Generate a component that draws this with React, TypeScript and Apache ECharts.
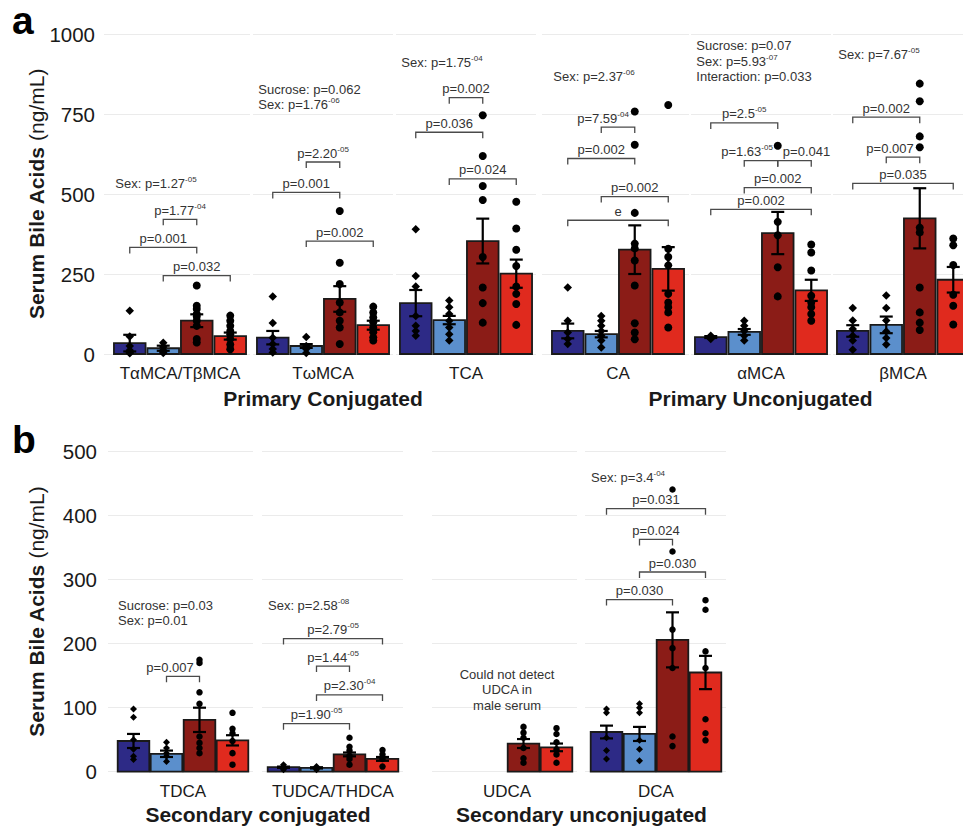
import React, { useEffect, useRef } from 'react';
import * as echarts from 'echarts';

const FONT = "'Liberation Sans', Arial, Helvetica, sans-serif";
const INK = '#1a1a1a';
const NOTE_INK = '#333333';

// ---- groups ----
const GROUPS = ['Male Control', 'Male Sucrose', 'Female Control', 'Female Sucrose'];
const GROUP_COLORS = ['#2d2a86', '#5b8fcc', '#8b1c17', '#e02a1e'];

type Bracket = [number, number, number, string, string]; // from group, to group, y value, label, superscript
type NoteLine = [string, string];

// ---- panel a ----
const A_CATEGORIES = ['TαMCA/TβMCA', 'TωMCA', 'TCA', 'CA', 'αMCA', 'βMCA'];
const A_TITLES = ['Primary Conjugated', 'Primary Unconjugated'];
const A_TITLE_SPANS = [[0, 2], [3, 5]];
const A_TICKS = [0, 250, 500, 750, 1000];
const A_MEANS: (number | null)[][] = [
  [34, 18, 104, 56],
  [51, 25, 172, 90],
  [159, 106, 353, 251],
  [72, 62, 326, 266],
  [53, 69, 378, 199],
  [72, 91, 424, 232],
];
const A_SEMS: (number | null)[][] = [
  [26, 8, 20, 11],
  [21, 6, 40, 14],
  [41, 13, 70, 44],
  [23, 10, 76, 68],
  [3, 9, 66, 33],
  [18, 26, 94, 40],
];
const A_POINTS: number[][][] = [
  [[135, 55, 25, 12, 5, 2], [35, 22, 12, 6, 3], [214, 151, 141, 125, 117, 104, 88, 47, 36], [120, 104, 88, 72, 62, 47, 30, 15]],
  [[180, 97, 51, 31, 16, 5], [53, 25, 16, 3], [447, 285, 219, 161, 130, 104, 83, 31], [148, 130, 114, 99, 83, 68, 52, 42]],
  [[390, 244, 211, 119, 88, 72, 57], [167, 146, 125, 104, 83, 62, 42], [746, 619, 525, 481, 303, 208, 159, 98], [476, 392, 326, 275, 211, 188, 156, 91]],
  [[208, 104, 67, 47, 31], [119, 104, 88, 72, 57, 42, 20], [758, 654, 441, 345, 330, 292, 214, 96, 67, 46], [778, 329, 303, 277, 188, 161, 146, 130, 83]],
  [[57, 52, 47], [104, 88, 72, 57, 42], [651, 413, 371, 271, 180], [342, 317, 261, 182, 161, 146, 125, 104]],
  [[144, 105, 78, 57, 42, 13], [183, 144, 105, 70, 50, 30], [845, 790, 680, 646, 395, 380, 208, 130, 98, 75], [361, 340, 278, 185, 151, 92]],
];
const A_BRACKETS: Bracket[][] = [
  [[1, 3, 333, 'p=0.001', ''], [2, 3, 421, 'p=1.77', '-04'], [2, 4, 245, 'p=0.032', '']],
  [[1, 3, 505, 'p=0.001', ''], [2, 3, 600, 'p=2.20', '-05'], [2, 4, 353, 'p=0.002', '']],
  [[2, 3, 801, 'p=0.002', ''], [1, 3, 693, 'p=0.036', ''], [2, 4, 547, 'p=0.024', '']],
  [[2, 3, 709, 'p=7.59', '-04'], [1, 3, 611, 'p=0.002', ''], [2, 4, 492, 'p=0.002', ''], [1, 4, 418, 'e', '']],
  [[1, 3, 722, 'p=2.5', '-05'], [2, 3, 604, 'p=1.63', '-05'], [3, 4, 604, 'p=0.041', ''], [2, 4, 520, 'p=0.002', ''], [1, 4, 452, 'p=0.002', '']],
  [[1, 3, 740, 'p=0.002', ''], [2, 3, 615, 'p=0.007', ''], [1, 4, 533, 'p=0.035', '']],
];
const A_NOTE_Y = [534, 827, 911, 866, 963, 937];
const A_NOTE_LINES: NoteLine[][] = [
  [['Sex: p=1.27', '-05']],
  [['Sucrose: p=0.062', ''], ['Sex: p=1.76', '-06']],
  [['Sex: p=1.75', '-04']],
  [['Sex: p=2.37', '-06']],
  [['Sucrose: p=0.07', ''], ['Sex: p=5.93', '-07'], ['Interaction: p=0.033', '']],
  [['Sex: p=7.67', '-05']],
];

// ---- panel b ----
const B_CATEGORIES = ['TDCA', 'TUDCA/THDCA', 'UDCA', 'DCA'];
const B_TITLES = ['Secondary conjugated', 'Secondary unconjugated'];
const B_TITLE_SPANS = [[0, 1], [2, 3]];
const B_TICKS = [0, 100, 200, 300, 400, 500];
const B_MEANS: (number | null)[][] = [
  [48, 28, 81, 49],
  [7, 6, 27, 20],
  [null, null, 44, 38],
  [62, 59, 206, 155],
];
const B_SEMS: (number | null)[][] = [
  [11, 5, 19, 8],
  [1, 1, 3, 3],
  [null, null, 7, 6],
  [10, 11, 43, 26],
];
const B_POINTS: number[][][] = [
  [[98, 85, 50, 35, 24, 19], [46, 37, 29, 24, 16], [175, 170, 124, 106, 55, 45, 37, 29], [92, 67, 60, 48, 29, 11]],
  [[11, 7, 5, 3], [8, 5, 3], [53, 39, 33, 25, 20, 11], [34, 27, 20, 8]],
  [[], [], [70, 61, 53, 37, 21, 14], [68, 59, 46, 35, 27, 14]],
  [[98, 92, 53, 33, 20], [106, 100, 92, 49, 35, 17], [441, 344, 222, 193, 162, 55, 40], [268, 253, 188, 162, 82, 60, 49]],
];
const B_BRACKETS: Bracket[][] = [
  [[2, 3, 149, 'p=0.007', '']],
  [[1, 4, 208, 'p=2.79', '-05'], [2, 3, 165, 'p=1.44', '-05'], [2, 4, 120, 'p=2.30', '-04'], [1, 3, 75, 'p=1.90', '-05']],
  [],
  [[1, 4, 411, 'p=0.031', ''], [2, 3, 363, 'p=0.024', ''], [2, 4, 312, 'p=0.030', ''], [1, 3, 269, 'p=0.030', '']],
];
const B_NOTE_Y = [260, 260, 152, 460];
const B_NOTE_LINES: NoteLine[][] = [
  [['Sucrose: p=0.03', ''], ['Sex: p=0.01', '']],
  [['Sex: p=2.58', '-08']],
  [['Could not detect', ''], ['UDCA in', ''], ['male serum', '']],
  [['Sex: p=3.4', '-04']],
];

// ---- layout (pixels) ----
// [gridline left, gridline right, left edge of first bar slot]
const A_LAYOUT = [[104, 250, 113], [253, 393, 256], [396, 536, 399], [542, 689, 551], [691, 831, 694], [833, 963, 836]];
const B_LAYOUT = [[108, 253, 117], [262, 403, 267], [432, 577, 441], [585, 726, 590]];
const LABEL_SHIFT: Record<string, number> = { 'a-3-0': -15, 'a-4-1': -14, 'a-4-2': 12, 'a-5-1': -13, 'b-0-0': -13 };
const CENTERED_NOTES: Record<string, boolean> = { 'b-2': true };

const PANELS = [
  {
    key: 'a', categories: A_CATEGORIES, titles: A_TITLES, spans: A_TITLE_SPANS, ticks: A_TICKS,
    means: A_MEANS, sems: A_SEMS, points: A_POINTS, brackets: A_BRACKETS, noteY: A_NOTE_Y, noteLines: A_NOTE_LINES,
    layout: A_LAYOUT, unit: 33.5, top: 34, height: 320, labelMargin: 9, noteX: 0.57,
    diamond: 8.5, circle: 8, catOffset: 19, titleOffset: 44, letterY: 20, yTitleX: 36.5,
  },
  {
    key: 'b', categories: B_CATEGORIES, titles: B_TITLES, spans: B_TITLE_SPANS, ticks: B_TICKS,
    means: B_MEANS, sems: B_SEMS, points: B_POINTS, brackets: B_BRACKETS, noteY: B_NOTE_Y, noteLines: B_NOTE_LINES,
    layout: B_LAYOUT, unit: 33, top: 451.7, height: 320, labelMargin: 11, noteX: 0.53,
    diamond: 7, circle: 6.5, catOffset: 20, titleOffset: 43, letterY: 439.5, yTitleX: 36,
  },
];

const RICH = {
  m: { fontSize: 13, fontFamily: FONT, fill: NOTE_INK, color: NOTE_INK, lineHeight: 16 },
  s: { fontSize: 8, fontFamily: FONT, fill: NOTE_INK, color: NOTE_INK, verticalAlign: 'top', lineHeight: 8 },
};
const rt = (main: string, sup: string) => (sup ? `{m|${main}}{s|${sup}}` : `{m|${main}}`);

function buildOption() {
  const grid: any[] = [];
  const xAxis: any[] = [];
  const yAxis: any[] = [];
  const series: any[] = [];
  let gi = 0;
  PANELS.forEach((P) => {
    const ticks = P.ticks;
    const interval = ticks[1] - ticks[0];
    const barHalf = 15.8 / P.unit;
    P.layout.forEach(([L, R, B], f) => {
      grid.push({ left: L, width: R - L, top: P.top, height: P.height });
      xAxis.push({ type: 'value', gridIndex: gi, min: 0.5 - (B - L) / P.unit, max: 0.5 + (R - B) / P.unit, show: false });
      yAxis.push({
        type: 'value', gridIndex: gi, min: ticks[0], max: ticks[ticks.length - 1], interval,
        axisLine: { show: false }, axisTick: { show: false },
        axisLabel: {
          show: f === 0, margin: P.labelMargin, fontSize: 20.5, color: INK, fontFamily: FONT,
          formatter: (v: number) => String(v),
        },
        splitLine: { show: true, lineStyle: { color: '#ebebeb', width: 1 } },
      });
      const means = P.means[f];
      const sems = P.sems[f];
      const barData: number[][] = [];
      const errData: number[][] = [];
      means.forEach((m, g) => {
        if (m == null) return;
        barData.push([g + 1, m, g]);
        errData.push([g + 1, m, sems[g] as number]);
      });
      series.push({
        type: 'custom', name: P.categories[f] + ' mean', xAxisIndex: gi, yAxisIndex: gi, z: 2, silent: true,
        data: barData,
        renderItem: (params: any, api: any) => {
          const x = api.value(0), y = api.value(1), g = api.value(2);
          const p0 = api.coord([x - barHalf, y]);
          const p1 = api.coord([x + barHalf, 0]);
          return {
            type: 'rect',
            shape: { x: p0[0], y: p0[1], width: p1[0] - p0[0], height: p1[1] - p0[1] },
            style: { fill: GROUP_COLORS[g], stroke: INK, lineWidth: 1.8 },
          };
        },
      });
      const males: number[][] = [];
      const females: number[][] = [];
      P.points[f].forEach((vals, g) => {
        vals.forEach((v) => (g < 2 ? males : females).push([g + 1, v]));
      });
      series.push({
        type: 'scatter', name: P.categories[f] + ' male', xAxisIndex: gi, yAxisIndex: gi, z: 3, silent: true,
        symbol: 'diamond', symbolSize: P.diamond, itemStyle: { color: '#000', opacity: 1 }, data: males,
      });
      series.push({
        type: 'scatter', name: P.categories[f] + ' female', xAxisIndex: gi, yAxisIndex: gi, z: 3, silent: true,
        symbol: 'circle', symbolSize: P.circle, itemStyle: { color: '#000', opacity: 1 }, data: females,
      });
      series.push({
        type: 'custom', name: P.categories[f] + ' sem', xAxisIndex: gi, yAxisIndex: gi, z: 4, silent: true,
        data: errData,
        renderItem: (params: any, api: any) => {
          const x = api.value(0), m = api.value(1), s = api.value(2);
          const t = api.coord([x, m + s]);
          const b = api.coord([x, Math.max(0, m - s)]);
          const cw = 6.5;
          const st = { stroke: '#000', lineWidth: 2.2 };
          return {
            type: 'group',
            children: [
              { type: 'line', shape: { x1: t[0], y1: t[1], x2: b[0], y2: b[1] }, style: st },
              { type: 'line', shape: { x1: t[0] - cw, y1: t[1], x2: t[0] + cw, y2: t[1] }, style: st },
              { type: 'line', shape: { x1: b[0] - cw, y1: b[1], x2: b[0] + cw, y2: b[1] }, style: st },
            ],
          };
        },
      });
      const brs = P.brackets[f];
      if (brs.length) {
        series.push({
          type: 'custom', name: P.categories[f] + ' comparisons', xAxisIndex: gi, yAxisIndex: gi, z: 5, silent: true,
          data: brs.map((b) => [b[0], b[1], b[2]]),
          renderItem: (params: any, api: any) => {
            const br = brs[params.dataIndex];
            const p1 = api.coord([api.value(0), api.value(2)]);
            const p2 = api.coord([api.value(1), api.value(2)]);
            const tick = 6;
            const shift = LABEL_SHIFT[`${P.key}-${f}-${params.dataIndex}`] || 0;
            return {
              type: 'group',
              children: [
                {
                  type: 'polyline',
                  shape: { points: [[p1[0], p1[1] + tick], [p1[0], p1[1]], [p2[0], p2[1]], [p2[0], p2[1] + tick]] },
                  style: { stroke: '#4a4a4a', lineWidth: 1.3, fill: 'none' },
                },
                {
                  type: 'text', x: (p1[0] + p2[0]) / 2 + shift, y: p1[1] - 1,
                  style: {
                    text: rt(br[3], br[4]), rich: RICH,
                    align: 'center', verticalAlign: 'bottom', textAlign: 'center', textVerticalAlign: 'bottom',
                  },
                },
              ],
            };
          },
        });
      }
      const lines = P.noteLines[f];
      if (lines && lines.length) {
        const centered = !!CENTERED_NOTES[`${P.key}-${f}`];
        series.push({
          type: 'custom', name: P.categories[f] + ' note', xAxisIndex: gi, yAxisIndex: gi, z: 5, silent: true,
          data: [[centered ? 2.5 : P.noteX, P.noteY[f]]],
          renderItem: (params: any, api: any) => {
            const p = api.coord([api.value(0), api.value(1)]);
            return {
              type: 'group',
              children: lines.map((ln, i) => ({
                type: 'text', x: p[0], y: p[1] + i * 15.5,
                style: {
                  text: rt(ln[0], ln[1]), rich: RICH,
                  align: centered ? 'center' : 'left', textAlign: centered ? 'center' : 'left',
                  verticalAlign: 'middle', textVerticalAlign: 'middle',
                },
              })),
            };
          },
        });
      }
      gi++;
    });
  });
  return { animation: false, backgroundColor: '#ffffff', grid, xAxis, yAxis, series };
}

function buildGraphics(chart: any) {
  const els: any[] = [];
  let gi = 0;
  PANELS.forEach((P) => {
    const centers: number[][] = [];
    P.layout.forEach((_, f) => {
      const c = chart.convertToPixel({ gridIndex: gi }, [2.5, 0]);
      centers.push(c);
      els.push({
        type: 'text', x: c[0], y: c[1] + P.catOffset,
        style: {
          text: P.categories[f], fontSize: 17, fontFamily: FONT, fill: INK,
          align: 'center', verticalAlign: 'middle', textAlign: 'center', textVerticalAlign: 'middle',
        },
      });
      gi++;
    });
    P.titles.forEach((t, i) => {
      const [a, b] = P.spans[i];
      const cx = (centers[a][0] + centers[b][0]) / 2;
      els.push({
        type: 'text', x: cx, y: centers[a][1] + P.titleOffset,
        style: {
          text: t, fontSize: 21, fontWeight: 'bold', fontFamily: FONT, fill: INK,
          align: 'center', verticalAlign: 'middle', textAlign: 'center', textVerticalAlign: 'middle',
        },
      });
    });
    els.push({
      type: 'text', x: 12, y: P.letterY,
      style: {
        text: P.key, fontSize: 39, fontWeight: 'bold', fontFamily: FONT, fill: '#000', lineHeight: 30,
        align: 'left', verticalAlign: 'middle', textAlign: 'left', textVerticalAlign: 'middle',
      },
    });
    els.push({
      type: 'text', x: P.yTitleX, y: P.top + P.height / 2, rotation: Math.PI / 2,
      style: {
        text: '{b|Serum Bile Acids}{n| (ng/mL)}',
        rich: {
          b: { fontSize: 21, fontWeight: 'bold', fontFamily: FONT, fill: INK, color: INK },
          n: { fontSize: 21, fontFamily: FONT, fill: INK, color: INK },
        },
        align: 'center', verticalAlign: 'middle', textAlign: 'center', textVerticalAlign: 'middle',
      },
    });
  });
  return els;
}

export default function App() {
  const ref = useRef<HTMLDivElement>(null);
  useEffect(() => {
    document.body.style.margin = '0';
    const chart = echarts.init(ref.current as HTMLDivElement, null, { renderer: 'svg' });
    chart.setOption(buildOption());
    chart.setOption({ graphic: buildGraphics(chart) });
    return () => chart.dispose();
  }, []);
  return <div ref={ref} style={{ width: 963, height: 828, overflow: 'hidden' }} />;
}
